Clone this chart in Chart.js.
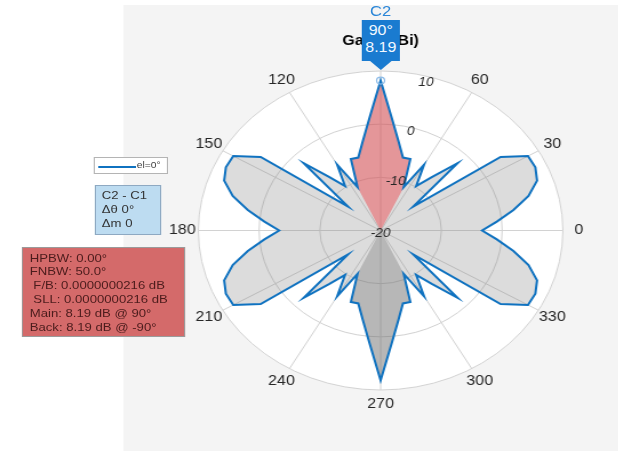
<!DOCTYPE html>
<html>
<head>
<meta charset="utf-8">
<script src="https://cdn.jsdelivr.net/npm/chart.js@4/dist/chart.umd.min.js"></script>
<style>
  html, body { margin:0; padding:0; width:618px; height:451px; overflow:hidden; background:#fff; }
  body { font-family: "Liberation Sans", Arial, Helvetica, sans-serif; }
  #wrap { position:absolute; left:0; top:0; width:541px; height:451px; transform:scaleX(1.143); transform-origin:0 0; }
  #panel { position:absolute; left:107.6px; top:5px; width:434px; height:446px; background:#f4f4f4; }
  #c { position:absolute; left:125px; top:0; width:416px; height:451px; }
  #legend { position:absolute; left:81.6px; top:157.3px; width:63px; height:15px; background:#fff; border:1px solid #b4b4b4; }
  #legend .ln { position:absolute; left:3.5px; top:7.3px; width:33px; height:2px; background:#0f72c0; }
  #legend .tx { position:absolute; left:37px; top:1px; font-size:9px; line-height:13px; color:#444; white-space:nowrap; }
  #delta { position:absolute; left:83.1px; top:185px; width:51px; height:45px; padding:3px 0 0 5px; background:#bddcf1; border:1px solid #8ea9c2; font-size:11.5px; line-height:13.8px; color:#333; white-space:pre; }
  #metrics { position:absolute; left:19px; top:246.7px; width:135px; height:84px; padding:4px 0 0 6px; background:#d46a6a; border:1px solid #9a9a9a; font-size:11.5px; line-height:13.8px; color:#4b1c1c; white-space:pre; }
  #c2 { position:absolute; left:313px; width:40px; top:3px; text-align:center; font-size:14.5px; line-height:16px; color:#2a86d8; }
  #tag { position:absolute; left:316.4px; top:20px; width:33.6px; height:50px; background:#1a7bd0; color:#f2f8ff; text-align:center; font-size:14px; line-height:17px; padding-top:2px; box-sizing:border-box;
         clip-path: polygon(0 0, 100% 0, 100% 41px, 78% 41px, 50% 50px, 22% 41px, 0 41px); }
</style>
</head>
<body>
<div id="wrap">
  <div id="panel"></div>
  <canvas id="c" width="416" height="451"></canvas>
  <div id="legend"><span class="ln"></span><span class="tx" id="legendText"></span></div>
  <div id="delta"></div>
  <div id="metrics"></div>
  <div id="c2">C2</div>
  <div id="tag"></div>
</div>
<script>
// ---- data ----
const angleDeg = [0,5,10,15,20,25,30,35,40,45,50,55,60,65,70,75,80,85,
                  90,95,100,105,110,115,120,125,130,135,140,145,150,155,160,165,170,175,
                  180,185,190,195,200,205,210,215,220,225,230,235,240,245,250,255,260,265,
                  270,275,280,285,290,295,300,305,310,315,320,325,330,335,340,345,350,355];
const gainDb = [-3.3,-0.8,2.2,5.2,7.4,8.1,8.0,4.1,-13.0,-2.1,-6.9,-9.8,-5.7,-11.0,-5.7,-5.8,-3.0,1.2,
                8.19,1.2,-3.0,-5.8,-5.7,-11.0,-5.7,-9.8,-6.9,-2.1,-13.0,4.1,8.0,8.1,7.4,5.2,2.2,-0.8,
                -3.3,-0.8,2.2,5.2,7.4,8.1,8.0,4.1,-13.0,-2.1,-6.9,-9.8,-5.7,-11.0,-5.7,-5.8,-3.0,1.2,
                8.19,1.2,-3.0,-5.8,-5.7,-11.0,-5.7,-9.8,-6.9,-2.1,-13.0,4.1,8.0,8.1,7.4,5.2,2.2,-0.8];
const radialTicks = [-20, -10, 0, 10];
const angleTickLabels = [0, 30, 60, 90, 120, 150, 180, 210, 240, 270, 300, 330];
const mainLobe = [65, 115];
const backLobe = [245, 295];
const peakAngle = 90;
const peakValue = 8.19;
const legendLabel = 'el=0°';
const deltaLines = ['C2 - C1', 'Δθ 0°', 'Δm 0'];
const metricLines = ['HPBW: 0.00°', 'FNBW: 50.0°', ' F/B: 0.0000000216 dB', ' SLL: 0.0000000216 dB', 'Main: 8.19 dB @ 90°', 'Back: 8.19 dB @ -90°'];
const tagLines = ['90°', '8.19'];
const titleText = 'Gain (dBi)';

// ---- text overlays ----
document.getElementById('legendText').textContent = legendLabel;
document.getElementById('delta').textContent = deltaLines.join('\n');
document.getElementById('metrics').textContent = metricLines.join('\n');
document.getElementById('tag').innerHTML = tagLines.map(t => '<div>' + t + '</div>').join('');

// ---- radar ordering: index 0 at top (90°), going clockwise ----
const step = 5;
const radarAngles = angleDeg.map((_, i) => ((peakAngle - step * i) % 360 + 360) % 360);
const radarGain = radarAngles.map(a => gainDb[angleDeg.indexOf(a)]);
const inRange = (a, r) => a >= r[0] && a <= r[1];
const rMin = radialTicks[0], rMax = radialTicks[radialTicks.length - 1];
const mainData = radarAngles.map((a, i) => inRange(a, mainLobe) ? radarGain[i] : rMin);
const backData = radarAngles.map((a, i) => inRange(a, backLobe) ? radarGain[i] : rMin);

const CX = 208, CY = 230.5, RAD = 159.5;
const FONT = '"Liberation Sans", Arial, Helvetica, sans-serif';

const geom = {
  id: 'geom',
  afterLayout(chart) {
    const r = chart.scales.r;
    r.xCenter = CX; r.yCenter = CY; r.drawingArea = RAD;
  },
  beforeDraw(chart) {
    const r = chart.scales.r, ctx = chart.ctx;
    ctx.save();
    ctx.fillStyle = '#ffffff';
    ctx.beginPath();
    ctx.arc(r.xCenter, r.yCenter, r.drawingArea, 0, Math.PI * 2);
    ctx.fill();
    ctx.restore();
  },
  afterDatasetsDraw(chart) {
    const r = chart.scales.r, ctx = chart.ctx;
    ctx.save();
    ctx.fillStyle = '#262626';
    ctx.textAlign = 'center';
    ctx.textBaseline = 'middle';
    ctx.font = '14px ' + FONT;
    angleTickLabels.forEach(a => {
      const idx = radarAngles.indexOf(a);
      const p = r.getPointPosition(idx, r.drawingArea + 14);
      ctx.fillText(String(a), p.x, p.y);
    });
    ctx.font = 'italic 12px ' + FONT;
    const idx75 = radarAngles.indexOf(75);
    radialTicks.forEach(v => {
      const d = r.getDistanceFromCenterForValue(v) * 0.96;
      const p = r.getPointPosition(idx75, d);
      ctx.fillText(String(v), p.x, p.y + (v === rMin ? 3 : 0));
    });
    ctx.restore();
  }
};

new Chart(document.getElementById('c'), {
  type: 'radar',
  data: {
    labels: radarAngles.map(String),
    datasets: [
      { data: radarGain, fill: false, borderColor: '#0f72c0', borderWidth: 2,
        pointRadius: c => radarAngles[c.index] === peakAngle ? 3.5 : 0,
        pointBorderColor: '#8cbbe8', pointBorderWidth: 1.2, pointBackgroundColor: 'rgba(255,255,255,0)', order: 0 },
      { data: mainData, fill: 'start', backgroundColor: 'rgba(235,80,85,0.5)', borderWidth: 0, pointRadius: 0, order: 1 },
      { data: backData, fill: 'start', backgroundColor: 'rgba(110,110,110,0.33)', borderWidth: 0, pointRadius: 0, order: 2 },
      { data: radarGain, fill: 'start', backgroundColor: 'rgba(128,128,128,0.28)', borderWidth: 0, pointRadius: 0, order: 3 }
    ]
  },
  options: {
    responsive: false,
    animation: false,
    events: [],
    elements: { line: { tension: 0 } },
    plugins: {
      legend: { display: false },
      tooltip: { enabled: false },
      title: { display: true, text: titleText, color: '#000', font: { size: 14, weight: 'bold', family: FONT }, padding: { top: 33, bottom: 4 } }
    },
    scales: {
      r: {
        min: rMin, max: rMax,
        ticks: { stepSize: 10, display: false },
        pointLabels: { display: false },
        grid: { circular: true, color: '#d2d2d2', lineWidth: 1 },
        angleLines: { color: '#d2d2d2', lineWidth: c => (Number(c.label) % 30 === 0 ? 1 : 0) }
      }
    }
  },
  plugins: [geom]
});
</script>
</body>
</html>
